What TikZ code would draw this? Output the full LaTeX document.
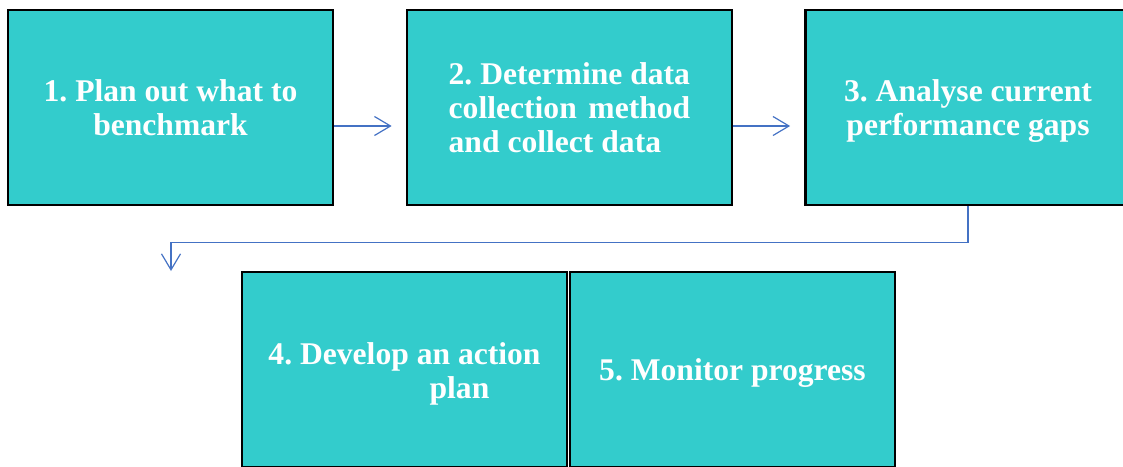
\documentclass[tikz,border=0pt]{standalone}
\usepackage{fontspec}
\setmainfont{Liberation Serif}
\usetikzlibrary{arrows.meta,calc}
\frenchspacing
\definecolor{boxfill}{HTML}{33CCCC}
\definecolor{linkblue}{HTML}{4472C4}
\tikzset{
  stepbox/.style={draw=black, line width=2.7pt, fill=boxfill,
    minimum width=325pt, minimum height=195pt, inner sep=0pt},
  steptext/.style={text=white, align=center, inner sep=0pt,
    font=\fontsize{31.6}{34}\selectfont\bfseries\frenchspacing},
  flow/.style={draw=linkblue, line width=1.2pt,
    -{Straight Barb[length=16pt, width=19pt, line width=1.2pt]}}
}
\begin{document}
\begin{tikzpicture}[x=1pt, y=-1pt]
  \useasboundingbox (0,0) rectangle (1123,466);
  \clip (0,0) rectangle (1123,466);

  % top row
  \node[stepbox] (b1) at (170.5,107.5) {};
  \node[stepbox] (b2) at (569.5,107.5) {};
  \node[stepbox] (b3) at (968,107.5) {};

  % bottom row
  \node[stepbox] (b4) at (404.5,369.5) {};
  \node[stepbox] (b5) at (732.5,369.5) {};

  % labels
  \node[steptext] (t1) at ([yshift=0pt]b1.center) {1. Plan out what to\\benchmark};
  \node[steptext, align=left] (t2) at ([yshift=-0.5pt]b2.center)
    {2. Determine data\\collection\hspace{0.12em} method\\and collect data};
  \node[steptext] (t3) at ([yshift=-4pt]b3.center) {3. Analyse current\\performance gaps};
  \node[steptext] (t4) at ([yshift=-4pt]b4.center) {4. Develop an action\\\hspace*{110pt}plan};
  \node[steptext] (t5) at ([yshift=-4pt]b5.center) {5. Monitor progress};

  % connectors
  \coordinate (turnend) at (171,271);
  \draw[flow] ([yshift=-18.5pt]b1.east) -- ([yshift=-18.5pt,xshift=-14pt]b2.west);
  \draw[flow] ([yshift=-18.5pt]b2.east) -- ([yshift=-18.5pt,xshift=-14pt]b3.west);
  \draw[flow] (b3.south) -- ++(0,36) -| (turnend);
\end{tikzpicture}
\end{document}
